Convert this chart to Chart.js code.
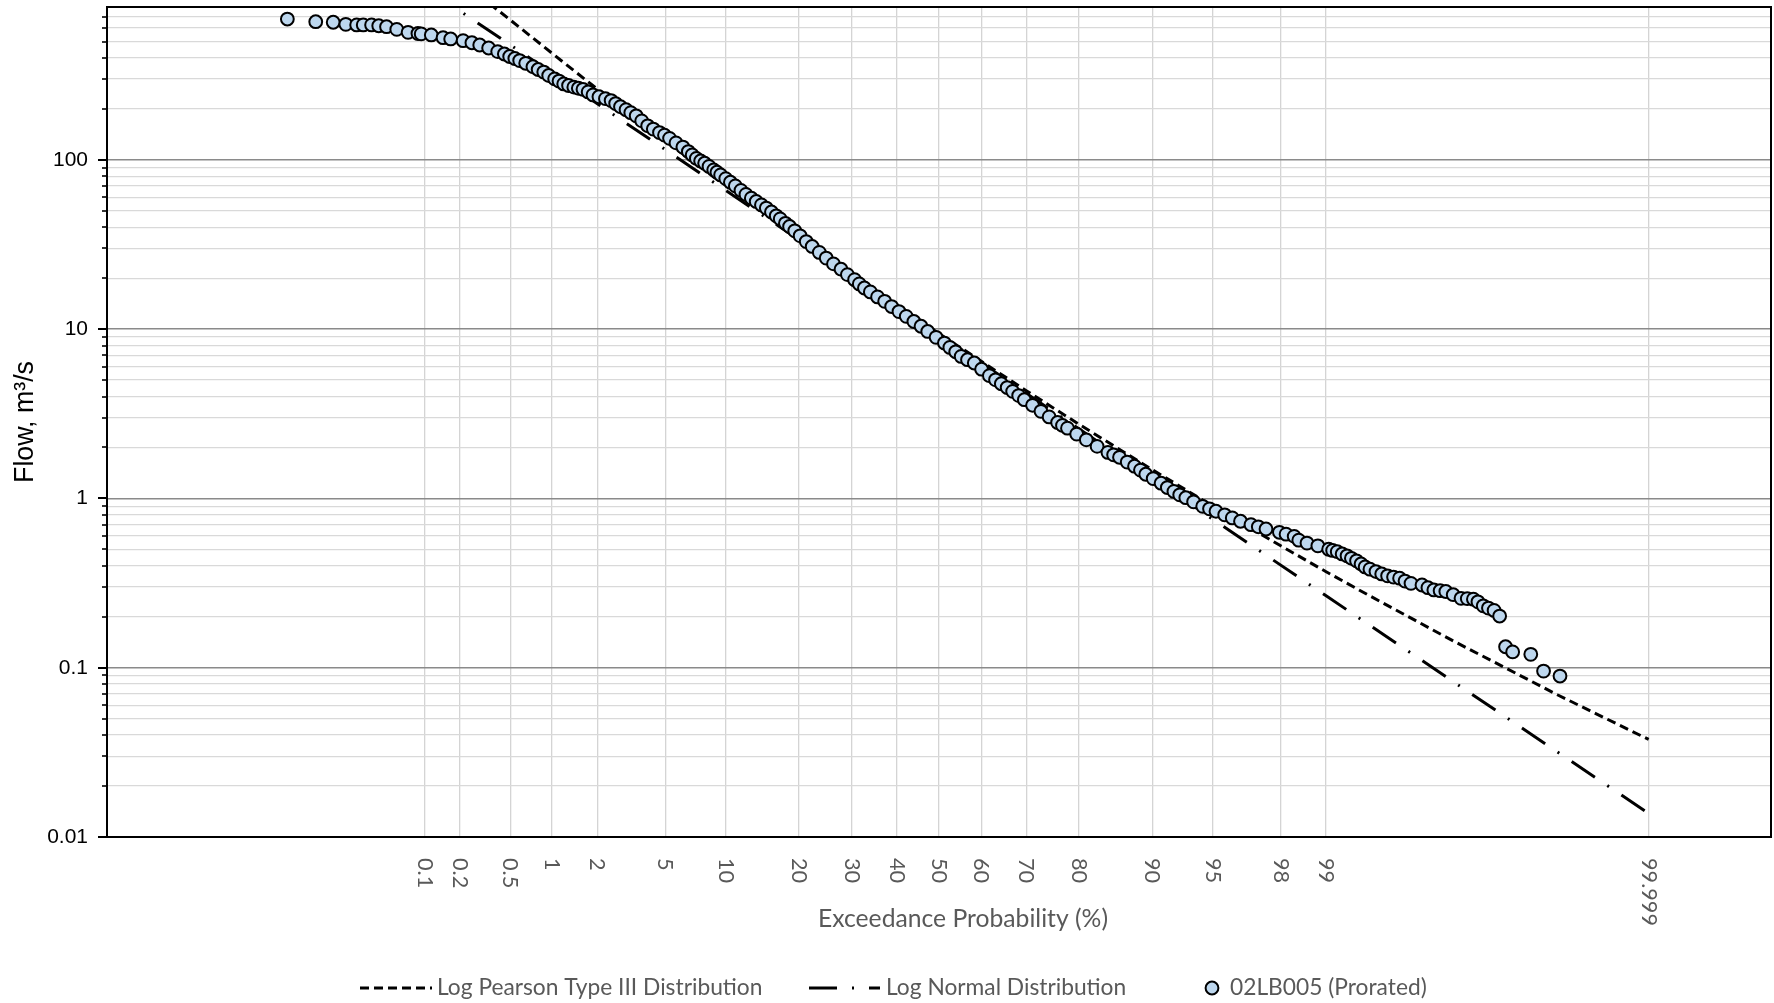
<!DOCTYPE html>
<html>
<head>
<meta charset="utf-8">
<script src="https://cdn.jsdelivr.net/npm/chart.js@4.4.1/dist/chart.umd.min.js"></script>
<style>
  html, body { margin: 0; padding: 0; background: #ffffff; }
  canvas { display: block; }
</style>
</head>
<body>
<canvas id="c" width="1774" height="1003"></canvas>
<script>
// ---------------- DATA ----------------
const xTickProbs  = [0.1, 0.2, 0.5, 1, 2, 5, 10, 20, 30, 40, 50, 60, 70, 80, 90, 95, 98, 99, 99.999];
const xTickLabels = ['0.1','0.2','0.5','1','2','5','10','20','30','40','50','60','70','80','90','95','98','99','99.999'];
const yMajorValues = [0.01, 0.1, 1, 10, 100];
const yMajorLabels = ['0.01', '0.1', '1', '10', '100'];
const yMinorMultipliers = [2, 3, 4, 5, 6, 7, 8, 9];

const seriesNames = ['Log Pearson Type III Distribution', 'Log Normal Distribution', '02LB005 (Prorated)'];

// observed flow duration points: exceedance probability (%) and flow (m3/s)
const obsProb = [
  0.0045, 0.009, 0.0136, 0.0182, 0.0233, 0.027, 0.0325, 0.038, 0.045, 0.056,
  0.071, 0.087, 0.093, 0.114, 0.144, 0.167, 0.212, 0.25, 0.289, 0.34,
  0.40, 0.45, 0.494, 0.54, 0.587, 0.65, 0.734, 0.80, 0.877, 0.95,
  1.045, 1.12, 1.206, 1.30, 1.41, 1.51, 1.62, 1.75, 1.88, 2.05,
  2.25, 2.44, 2.6, 2.78, 3.0, 3.2, 3.44, 3.7, 4.0, 4.3,
  4.65, 4.95, 5.27, 5.7, 6.19, 6.6, 6.9, 7.24, 7.6, 7.95,
  8.35, 8.79, 9.1, 9.47, 10.0, 10.5, 11.05, 11.7, 12.3, 12.97,
  13.6, 14.3, 14.97, 15.7, 16.4, 17.0, 17.8, 18.46, 19.3, 20.2,
  21.25, 22.3, 23.6, 24.9, 26.3, 27.8, 29.1, 30.6, 31.6, 32.7,
  34.0, 35.6, 37.2, 38.8, 40.5, 42.2, 44.0, 45.7, 47.3, 49.3,
  51.3, 52.6, 54.0, 55.3, 56.8, 58.4, 60.1, 61.9, 63.3, 64.6,
  65.9, 67.1, 68.4, 69.6, 71.3, 73.0, 74.6, 76.2, 77.1, 78.0,
  79.6, 81.2, 82.9, 84.5, 85.3, 86.1, 87.1, 88.0, 88.7, 89.3,
  90.1, 90.9, 91.5, 92.1, 92.6, 93.1, 93.7, 94.35, 94.8, 95.2,
  95.7, 96.1, 96.5, 96.96, 97.25, 97.53, 97.96, 98.15, 98.36, 98.47,
  98.65, 98.86, 99.04, 99.1, 99.165, 99.23, 99.29, 99.34, 99.395, 99.44,
  99.478, 99.52, 99.568, 99.61, 99.649, 99.685, 99.718, 99.745, 99.772, 99.815,
  99.835, 99.853, 99.87, 99.884, 99.90, 99.9147, 99.925, 99.934, 99.94, 99.9464,
  99.952, 99.9575, 99.9623, 99.9669, 99.9717, 99.9812, 99.986, 99.9905];
const obsFlow = [
  679, 655, 650, 632, 627, 627, 627, 620, 612, 590,
  567, 558, 555, 547, 527, 518, 506, 492, 477, 458,
  436, 422, 408, 397, 386, 372, 355, 342, 330, 315,
  301, 292, 281, 275, 269, 265, 261, 252, 242, 236,
  230, 224, 215, 206, 198, 190, 182, 170, 159, 152,
  145, 140, 134, 126, 119, 112, 107, 102, 98.5, 95.5,
  91.5, 87.3, 84.5, 81.5, 77.5, 73.8, 70.2, 66, 62.5, 59.4,
  56.8, 54.2, 51.9, 49.2, 46.7, 44.8, 42.2, 40.4, 38.1, 35.6,
  32.9, 30.8, 28.4, 26.3, 24.3, 22.6, 21.0, 19.6, 18.5, 17.5,
  16.6, 15.5, 14.6, 13.6, 12.7, 11.9, 11.1, 10.4, 9.69, 8.95,
  8.28, 7.8, 7.35, 6.90, 6.6, 6.31, 5.8, 5.31, 5.02, 4.76,
  4.52, 4.29, 4.05, 3.83, 3.55, 3.27, 3.03, 2.81, 2.70, 2.60,
  2.40, 2.22, 2.03, 1.87, 1.81, 1.75, 1.64, 1.55, 1.47, 1.39,
  1.31, 1.23, 1.16, 1.10, 1.05, 1.01, 0.955, 0.898, 0.868, 0.84,
  0.80, 0.767, 0.733, 0.70, 0.68, 0.66, 0.631, 0.615, 0.597, 0.567,
  0.545, 0.525, 0.501, 0.493, 0.485, 0.47, 0.458, 0.443, 0.428, 0.41,
  0.394, 0.382, 0.370, 0.358, 0.349, 0.343, 0.338, 0.325, 0.315, 0.308,
  0.297, 0.288, 0.285, 0.282, 0.27, 0.257, 0.256, 0.254, 0.245, 0.232,
  0.225, 0.218, 0.202, 0.133, 0.124, 0.120, 0.0955, 0.0893];

// Log Pearson Type III fitted curve
const lp3Prob = [0.05, 0.1, 0.2, 0.5, 1, 2, 5, 10, 20, 30, 50, 70, 80, 90, 95, 98, 99, 99.5, 99.9, 99.99, 99.999];
const lp3Flow = [2455, 1706, 1148, 670, 427, 262, 129, 70.7, 34.7, 21.1, 9.42, 4.33, 2.74, 1.48, 0.902, 0.525, 0.369, 0.270, 0.144, 0.069, 0.0377];

// Log Normal fitted line
const lnProb = [0.05, 0.1, 1, 10, 50, 90, 99, 99.9, 99.999];
const lnFlow = [1421, 1046, 326, 66.0, 9.31, 1.314, 0.266, 0.0828, 0.01377];

// ---------------- HELPERS ----------------
function probit(p) {
  const a = [-3.969683028665376e+01, 2.209460984245205e+02, -2.759285104469687e+02, 1.383577518672690e+02, -3.066479806614716e+01, 2.506628277459239e+00];
  const b = [-5.447609879822406e+01, 1.615858368580409e+02, -1.556989798598866e+02, 6.680131188771972e+01, -1.328068155288572e+01];
  const c = [-7.784894002430293e-03, -3.223964580411365e-01, -2.400758277161838e+00, -2.549732539343734e+00, 4.374664141464968e+00, 2.938163982698783e+00];
  const d = [7.784695709041462e-03, 3.224671290700398e-01, 2.445134137142996e+00, 3.754408661907416e+00];
  const pl = 0.02425, ph = 1 - pl;
  let q, r;
  if (p < pl) {
    q = Math.sqrt(-2 * Math.log(p));
    return (((((c[0]*q+c[1])*q+c[2])*q+c[3])*q+c[4])*q+c[5]) / ((((d[0]*q+d[1])*q+d[2])*q+d[3])*q+1);
  }
  if (p <= ph) {
    q = p - 0.5; r = q * q;
    return (((((a[0]*r+a[1])*r+a[2])*r+a[3])*r+a[4])*r+a[5])*q / (((((b[0]*r+b[1])*r+b[2])*r+b[3])*r+b[4])*r+1);
  }
  q = Math.sqrt(-2 * Math.log(1 - p));
  return -(((((c[0]*q+c[1])*q+c[2])*q+c[3])*q+c[4])*q+c[5]) / ((((d[0]*q+d[1])*q+d[2])*q+d[3])*q+1);
}
const toPts = (P, F) => P.map((p, i) => ({ x: probit(p / 100), y: F[i] }));

const mctx = document.createElement('canvas').getContext('2d');
function fitSize(family, text, target) {
  mctx.font = '100px ' + family;
  return 100 * target / mctx.measureText(text).width;
}
const CAL = '"Lato", "Open Sans", sans-serif';
const ARIAL = '"Liberation Sans", Arial, sans-serif';
const xTickFont = fitSize(CAL, '99.999', 68);
const xTitleFont = fitSize(CAL, 'Exceedance Probability (%)', 290);
const legendFont = (fitSize(CAL, seriesNames[0], 313) + fitSize(CAL, seriesNames[1], 232) + fitSize(CAL, seriesNames[2], 211)) / 3;
const yTickFont = fitSize(ARIAL, '100', 35);
const yTitleFont = fitSize(ARIAL, 'Flow, m³/s', 122);

const yTickValues = [];
yMajorValues.forEach(v => {
  yTickValues.push(v);
  if (v < 100) yMinorMultipliers.forEach(m => yTickValues.push(+(v * m).toPrecision(3)));
  else yMinorMultipliers.forEach(m => { if (v * m < 800) yTickValues.push(v * m); });
});
const isMajor = v => yMajorValues.some(m => Math.abs(m - v) / m < 1e-6);

const MARKER_FILL = '#BDD7EE';
const MARKER_R = 6.4;
const LP3_DASH = [9, 5];
const LN_DASH = [28, 15, 2, 15];

// ---------------- CUSTOM DRAWING ----------------
const decorPlugin = {
  id: 'decor',
  afterDraw(chart) {
    const ctx = chart.ctx;
    const ca = chart.chartArea;
    const xs = chart.scales.x, ys = chart.scales.y;
    ctx.save();
    // frame top & right
    ctx.strokeStyle = '#000';
    ctx.lineWidth = 2;
    ctx.beginPath();
    ctx.moveTo(ca.left - 1, ca.top);
    ctx.lineTo(ca.right, ca.top);
    ctx.lineTo(ca.right, ca.bottom + 1);
    ctx.stroke();
    // y tick marks
    yTickValues.forEach(v => {
      const y = Math.round(ys.getPixelForValue(v));
      const major = isMajor(v);
      ctx.lineWidth = major ? 2 : 1.6;
      ctx.beginPath();
      ctx.moveTo(ca.left - (major ? 9 : 5), y);
      ctx.lineTo(ca.left, y);
      ctx.stroke();
    });
    // x tick labels rotated clockwise
    ctx.fillStyle = '#595959';
    ctx.font = xTickFont.toFixed(2) + 'px ' + CAL;
    ctx.textAlign = 'left';
    ctx.textBaseline = 'middle';
    xTickProbs.forEach((p, i) => {
      const x = xs.getPixelForValue(probit(p / 100));
      ctx.save();
      ctx.translate(x, 858);
      ctx.rotate(Math.PI / 2);
      ctx.fillText(xTickLabels[i], 0, 0);
      ctx.restore();
    });
    // x axis title
    ctx.font = xTitleFont.toFixed(2) + 'px ' + CAL;
    ctx.textAlign = 'center';
    ctx.fillText('Exceedance Probability (%)', 963, 919);
    // legend
    const ly = 988;
    ctx.font = legendFont.toFixed(2) + 'px ' + CAL;
    ctx.textAlign = 'left';
    ctx.strokeStyle = '#000';
    ctx.lineWidth = 3;
    ctx.lineCap = 'butt';
    ctx.setLineDash(LP3_DASH);
    ctx.beginPath(); ctx.moveTo(360, ly); ctx.lineTo(432, ly); ctx.stroke();
    ctx.setLineDash(LN_DASH);
    ctx.beginPath(); ctx.moveTo(809, ly); ctx.lineTo(880, ly); ctx.stroke();
    ctx.setLineDash([]);
    ctx.fillStyle = '#595959';
    ctx.fillText(seriesNames[0], 437, ly);
    ctx.fillText(seriesNames[1], 886, ly);
    ctx.fillText(seriesNames[2], 1230, ly);
    ctx.beginPath();
    ctx.arc(1212, ly, MARKER_R, 0, Math.PI * 2);
    ctx.fillStyle = MARKER_FILL;
    ctx.fill();
    ctx.lineWidth = 2;
    ctx.stroke();
    ctx.restore();
  }
};

// ---------------- CHART ----------------
new Chart(document.getElementById('c'), {
  type: 'scatter',
  data: {
    datasets: [
      {
        label: seriesNames[2],
        data: toPts(obsProb, obsFlow),
        pointRadius: MARKER_R,
        pointBorderWidth: 2,
        pointBackgroundColor: MARKER_FILL,
        pointBorderColor: '#000',
        showLine: false,
        order: 0
      },
      {
        label: seriesNames[0],
        data: toPts(lp3Prob, lp3Flow),
        showLine: true,
        pointRadius: 0,
        borderColor: '#000',
        borderWidth: 3,
        borderDash: LP3_DASH,
        borderCapStyle: 'butt',
        tension: 0,
        order: 1
      },
      {
        label: seriesNames[1],
        data: toPts(lnProb, lnFlow),
        showLine: true,
        pointRadius: 0,
        borderColor: '#000',
        borderWidth: 3,
        borderDash: LN_DASH,
        borderDashOffset: 16,
        borderCapStyle: 'butt',
        tension: 0,
        order: 2
      }
    ]
  },
  options: {
    responsive: false,
    devicePixelRatio: 1,
    animation: false,
    layout: { autoPadding: false, padding: { left: 0, top: 7, right: 3, bottom: 0 } },
    plugins: { legend: { display: false }, tooltip: { enabled: false } },
    scales: {
      x: {
        type: 'linear',
        min: -5,
        max: 5,
        afterBuildTicks: s => { s.ticks = xTickProbs.map(p => ({ value: probit(p / 100) })); },
        afterFit: s => { s.height = 166; s.paddingLeft = 0; s.paddingRight = 0; },
        ticks: { display: false },
        grid: { color: '#d4d4d4', lineWidth: 1.3, drawTicks: false },
        border: { color: '#000', width: 2 }
      },
      y: {
        type: 'logarithmic',
        min: 0.01,
        max: 800,
        afterBuildTicks: s => { s.ticks = yTickValues.map(v => ({ value: v })); },
        afterFit: s => { s.width = 107; s.paddingTop = 0; s.paddingBottom = 0; },
        ticks: {
          autoSkip: false,
          padding: 19,
          color: '#000',
          font: { family: ARIAL, size: yTickFont },
          callback: v => { const i = yMajorValues.findIndex(m => Math.abs(m - v) / m < 1e-6); return i >= 0 ? yMajorLabels[i] : ''; }
        },
        grid: {
          drawTicks: false,
          color: c => (c.tick && isMajor(c.tick.value)) ? '#8a8a8a' : '#d9d9d9',
          lineWidth: c => (c.tick && isMajor(c.tick.value)) ? 1.6 : 1.3
        },
        border: { color: '#000', width: 2 },
        title: {
          display: true,
          text: 'Flow, m³/s',
          color: '#000',
          font: { family: ARIAL, size: yTitleFont },
          padding: { top: 10, bottom: 0 }
        }
      }
    }
  },
  plugins: [decorPlugin]
});
</script>
</body>
</html>
